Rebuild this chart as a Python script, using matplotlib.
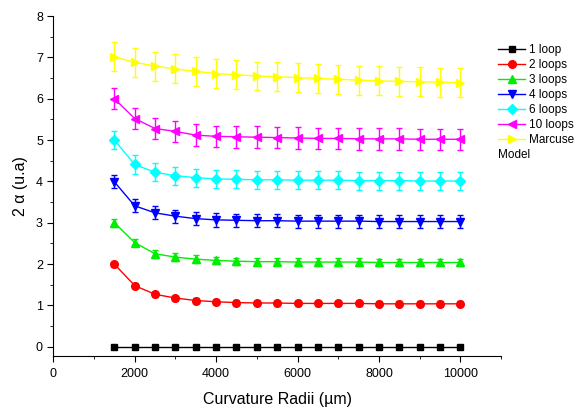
import matplotlib
matplotlib.use('Agg')
import matplotlib.pyplot as plt
from matplotlib.lines import Line2D
import numpy as np

plt.rcParams['font.family'] = ['Liberation Sans', 'DejaVu Sans']

# curvature radii (um)
radii = [1500, 2000, 2500, 3000, 3500, 4000, 4500, 5000, 5500,
         6000, 6500, 7000, 7500, 8000, 8500, 9000, 9500, 10000]

loop1 = [0.0] * 18
loop2 = [2.00, 1.48, 1.27, 1.18, 1.12, 1.09, 1.07, 1.06, 1.06,
         1.05, 1.05, 1.05, 1.05, 1.04, 1.04, 1.04, 1.04, 1.04]
loop3 = [3.00, 2.52, 2.25, 2.17, 2.12, 2.09, 2.07, 2.06, 2.06,
         2.05, 2.05, 2.05, 2.05, 2.04, 2.04, 2.04, 2.04, 2.04]
loop4 = [3.99, 3.41, 3.24, 3.16, 3.10, 3.07, 3.06, 3.05, 3.05,
         3.04, 3.04, 3.04, 3.04, 3.03, 3.03, 3.03, 3.03, 3.03]
loop6 = [5.00, 4.41, 4.22, 4.14, 4.09, 4.06, 4.05, 4.04, 4.04,
         4.03, 4.03, 4.03, 4.02, 4.02, 4.02, 4.01, 4.01, 4.01]
loop10 = [6.00, 5.52, 5.28, 5.21, 5.12, 5.09, 5.08, 5.07, 5.06,
          5.05, 5.04, 5.04, 5.03, 5.03, 5.03, 5.02, 5.02, 5.02]
marcuse = [7.01, 6.88, 6.79, 6.72, 6.66, 6.61, 6.58, 6.55, 6.53,
           6.51, 6.49, 6.47, 6.45, 6.43, 6.42, 6.41, 6.40, 6.39]

err = {'1 loop': 0.0, '2 loops': 0.06, '3 loops': 0.09, '4 loops': 0.16,
       '6 loops': 0.22, '10 loops': 0.26, 'Marcuse': 0.35}

series = [('1 loop', loop1, 'black', 's', 5),
          ('2 loops', loop2, 'red', 'o', 5.5),
          ('3 loops', loop3, '#00ee00', '^', 6),
          ('4 loops', loop4, 'blue', 'v', 6),
          ('6 loops', loop6, 'cyan', 'D', 5),
          ('10 loops', loop10, 'magenta', '<', 6),
          ('Marcuse', marcuse, 'yellow', '>', 6)]

fig = plt.figure(figsize=(5.77, 4.11), dpi=100)
ax = fig.add_axes([0.0924, 0.134, 0.776, 0.827])

handles = []
for name, vals, col, mk, ms in series:
    if err[name] > 0:
        ax.errorbar(radii, vals, yerr=err[name], color=col, marker=mk, ms=ms,
                    lw=1, elinewidth=1, capsize=2.5, capthick=1)
    else:
        ax.plot(radii, vals, color=col, marker=mk, ms=ms, lw=1)
    handles.append(Line2D([], [], color=col, marker=mk, ms=ms, lw=1, label=name))

ax.set_xlim(0, 11000)
ax.set_ylim(-0.22, 8)
ax.set_xticks([0, 2000, 4000, 6000, 8000, 10000])
ax.set_xticks(np.arange(1000, 11001, 2000), minor=True)
ax.set_yticks(range(0, 9))
ax.set_yticks(np.arange(0.5, 8, 1), minor=True)
ax.spines['top'].set_visible(False)
ax.spines['right'].set_visible(False)
ax.tick_params(direction='out', labelsize=9, length=4)
ax.tick_params(axis='x', pad=5)
ax.tick_params(which='minor', direction='out', length=2.5)
ax.set_xlabel('Curvature Radii (\u00b5m)', fontsize=11.5, labelpad=8)
ax.set_ylabel('2 \u03b1 (u.a)', fontsize=11.5, labelpad=6)

fig.legend(handles=handles, loc='upper left', bbox_to_anchor=(0.863, 0.893),
           frameon=False, fontsize=8.5, handlelength=2.3, numpoints=1,
           labelspacing=0.25, handletextpad=0.33, borderpad=0, borderaxespad=0)
fig.text(0.863, 0.623, 'Model', fontsize=8.5, va='center')

fig.savefig('out.png', dpi=100)
